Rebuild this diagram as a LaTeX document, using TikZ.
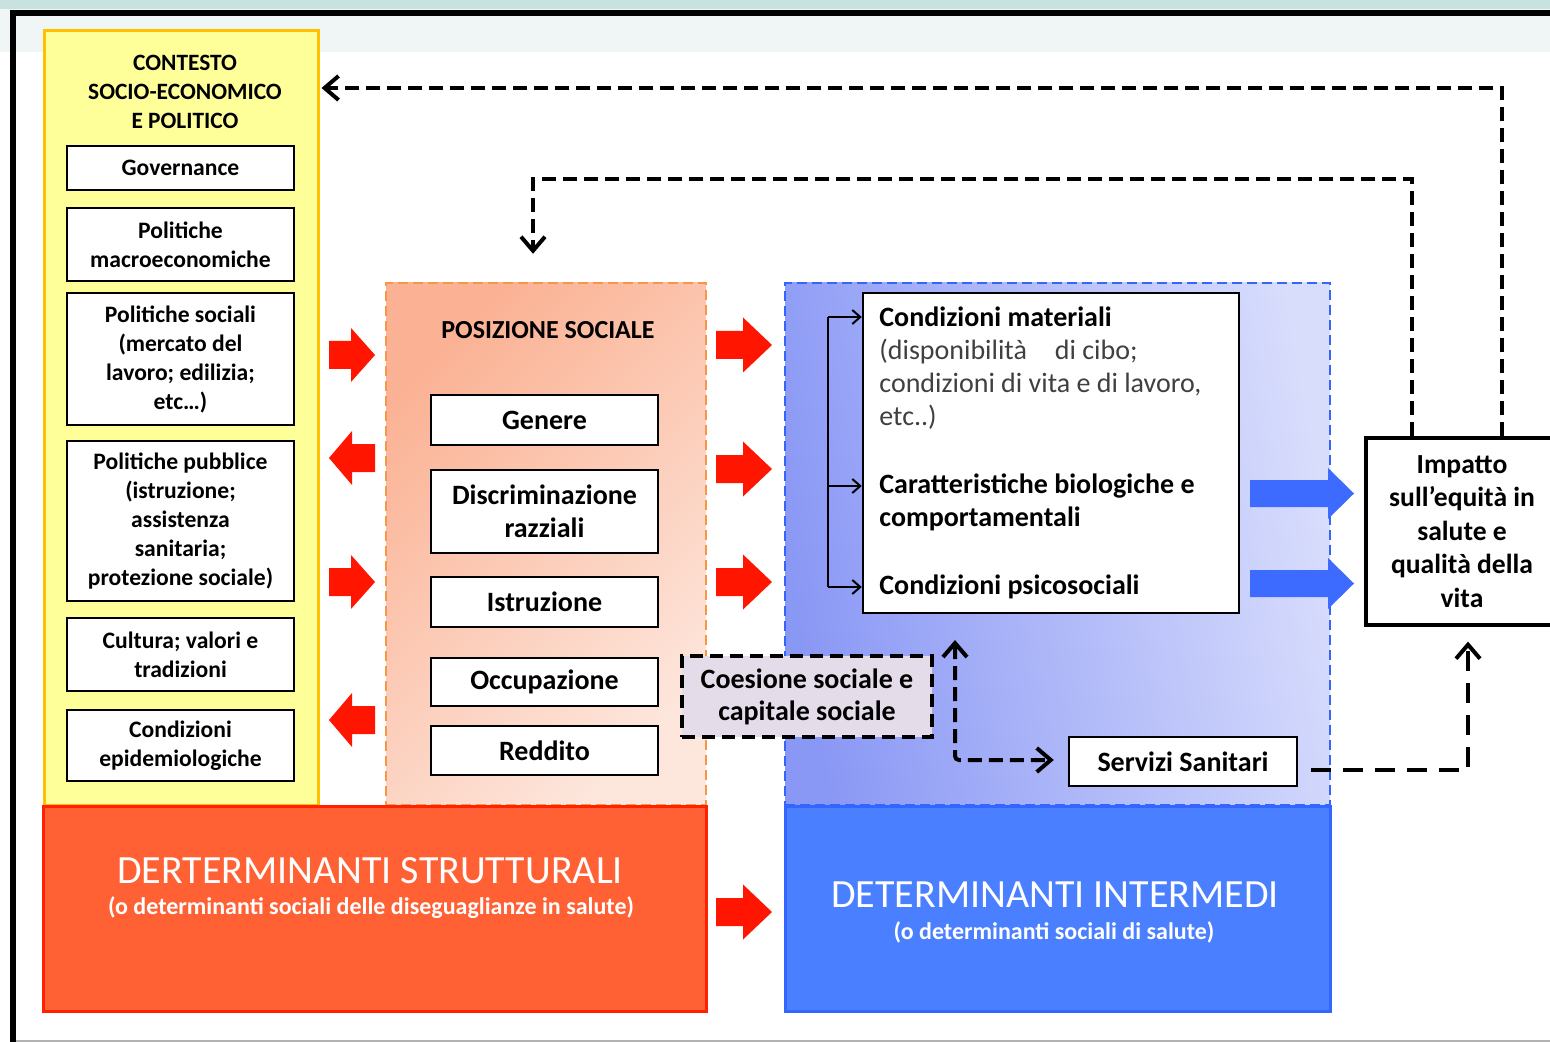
\documentclass[tikz,border=0pt]{standalone}
\usepackage{fontspec}
\setmainfont{Carlito}
\usetikzlibrary{arrows.meta,calc}
\definecolor{yelfill}{HTML}{FFFF99}
\definecolor{yelline}{HTML}{FFC000}
\definecolor{orline}{HTML}{F79646}
\definecolor{ordark}{HTML}{FBB294}
\definecolor{orlight}{HTML}{FDE6DC}
\definecolor{blline}{HTML}{3366FF}
\definecolor{bldark}{HTML}{8A98F5}
\definecolor{bllight}{HTML}{D8DDFC}
\definecolor{redfill}{HTML}{FF6134}
\definecolor{redline}{HTML}{FF2200}
\definecolor{bluefill}{HTML}{4A80FF}
\definecolor{arrred}{HTML}{FF1500}
\definecolor{arrblue}{HTML}{3D6BFF}
\definecolor{coesfill}{HTML}{E5DCEA}
\definecolor{grtext}{HTML}{404040}
\definecolor{bandtop}{HTML}{C8E3DF}
\definecolor{bandlight}{HTML}{F0F5F6}
% block arrow: x-start, x-headbase, x-tip, y, shaft half height, head half height, colour
\newcommand\blockarr[7]{\fill[#7] (#1,#4-#5) -- (#2,#4-#5) -- (#2,#4-#6) -- (#3,#4) -- (#2,#4+#6) -- (#2,#4+#5) -- (#1,#4+#5) -- cycle;}
\begin{document}
\begin{tikzpicture}[x=0.5pt,y=-0.5pt,
  wbox/.style={draw=black,line width=1.2pt,fill=white,align=center,inner sep=0pt},
  lfont/.style={font=\bfseries\fontsize{11.8}{14.5}\selectfont},
  pfont/.style={font=\bfseries\fontsize{14}{16.5}\selectfont},
  lbox/.style={wbox,lfont,minimum width=113.5pt},
  pbox/.style={wbox,pfont,minimum width=113.5pt},
  fb/.style={draw=black,line width=2pt,dash pattern=on 7pt off 3.5pt},
  fbb/.style={draw=black,line width=2pt,dash pattern=on 10pt off 6pt},
  barbend/.style={-{Straight Barb[length=7pt,width=12pt]}},
  barbboth/.style={{Straight Barb[length=7pt,width=12pt]}-{Straight Barb[length=7pt,width=12pt]}},
  smallbarb/.style={-{Straight Barb[length=4pt,width=7pt]}},
  ctext/.style={anchor=west,align=left,inner sep=0pt,font=\fontsize{14}{16.5}\selectfont}
]
\useasboundingbox (0,0) rectangle (1550,1042);
% frame
\fill[white] (0,0) rectangle (1550,1042);
\fill[bandlight] (0,0) rectangle (1550,52);
\fill[bandtop] (0,0) rectangle (1550,9);
\fill[black] (10,10) rectangle (1550,16);
\fill[black] (10,10) rectangle (16,1042);
\draw[black!30,line width=1pt] (16,1040.5) -- (1550,1040.5);

% containers
\node[draw=yelline,line width=1.5pt,fill=yelfill,minimum width=137pt,minimum height=387pt,inner sep=0pt] (yel) at (181,418) {};
\node[draw=orline,line width=1.2pt,dash pattern=on 5pt off 2.5pt,top color=ordark,bottom color=orlight,shading angle=45,minimum width=160pt,minimum height=261pt,inner sep=0pt] (orng) at (546,544) {};
\node[draw=blline,line width=1.2pt,dash pattern=on 5pt off 2.5pt,top color=bllight,bottom color=bldark,shading angle=-80,minimum width=272.5pt,minimum height=261pt,inner sep=0pt] (blu) at (1057.5,544) {};

% bottom boxes
\node[draw=redline,line width=1.5pt,fill=redfill,minimum width=331.5pt,minimum height=102.5pt,inner sep=0pt] (rbox) at (374.5,908.5) {};
\node[text=white,font=\fontsize{20}{24}\selectfont] (rtitle) at (370,871) {DERTERMINANTI STRUTTURALI};
\node[text=white,font=\bfseries\fontsize{12}{14}\selectfont] (rsub) at (371,908) {(o determinanti sociali delle diseguaglianze in salute)};
\node[draw=blline,line width=1.5pt,fill=bluefill,minimum width=272.5pt,minimum height=102.5pt,inner sep=0pt] (bbox) at (1057.5,908.5) {};
\node[text=white,font=\fontsize{20}{24}\selectfont] (btitle) at (1055,895) {DETERMINANTI INTERMEDI};
\node[text=white,font=\bfseries\fontsize{12}{14}\selectfont] (bsub) at (1054,932) {(o determinanti sociali di salute)};

% left column
\node[font=\bfseries\fontsize{11.7}{14.5}\selectfont,align=center] (ctitle) at (185,92) {CONTESTO\\SOCIO-ECONOMICO\\E POLITICO};
\node[lbox,minimum height=22pt] (gov) at (180.5,168) {Governance};
\node[lbox,minimum height=36.5pt] (macro) at (180.5,244.5) {Politiche\\macroeconomiche};
\node[lbox,minimum height=66pt] (soc) at (180.5,359) {Politiche sociali\\(mercato del\\lavoro; edilizia;\\etc…)};
\node[lbox,minimum height=80pt] (pub) at (180.5,521) {Politiche pubblice\\(istruzione;\\assistenza\\sanitaria;\\protezione sociale)};
\node[lbox,minimum height=36.5pt] (cult) at (180.5,654.5) {Cultura; valori e\\tradizioni};
\node[lbox,minimum height=35.5pt] (epi) at (180.5,745.5) {Condizioni\\epidemiologiche};

% posizione sociale
\node[font=\bfseries\fontsize{13}{15}\selectfont] (pstitle) at (548,330) {POSIZIONE SOCIALE};
\node[pbox,minimum height=25pt] (gen) at (544.5,420) {Genere};
\node[pbox,minimum height=41.5pt] (disc) at (544.5,511.5) {Discriminazione\\razziali};
\node[pbox,minimum height=25pt] (istr) at (544.5,602) {Istruzione};
\node[pbox,minimum height=24pt] (occ) at (544.5,682) {Occupazione};
\node[pbox,minimum height=24.5pt] (redd) at (544.5,750.5) {Reddito};

% condizioni
\node[wbox,minimum width=188pt,minimum height=160pt] (cbox) at (1051,453) {};
\node[ctext] (cmat) at (879,368) {\textbf{Condizioni materiali}\\\textcolor{grtext}{(disponibilità\quad di cibo;}\\\textcolor{grtext}{condizioni di vita e di lavoro,}\\\textcolor{grtext}{etc..)}};
\node[ctext,font=\bfseries\fontsize{14}{16.5}\selectfont] (cbio) at (879,502.5) {Caratteristiche biologiche e\\comportamentali};
\node[ctext,font=\bfseries\fontsize{14}{16.5}\selectfont] (cpsi) at (879,587) {Condizioni psicosociali};
\coordinate (b1) at (828,317);
\coordinate (b2) at (828,486);
\coordinate (b3) at (828,587);
\draw[line width=1pt] (b1) -- (b3);
\draw[line width=1pt,smallbarb] (b1) -- (b1 -| cbox.west);
\draw[line width=1pt,smallbarb] (b2) -- (b2 -| cbox.west);
\draw[line width=1pt,smallbarb] (b3) -- (b3 -| cbox.west);

% impatto, coesione, servizi
\node[wbox,line width=1.6pt,minimum width=96pt,minimum height=93.5pt,font=\bfseries\fontsize{13.8}{16.8}\selectfont] (imp) at (1462,531.5) {Impatto\\sull’equità in\\salute e\\qualità della\\vita};
\node[draw=black,line width=1.6pt,dash pattern=on 6.5pt off 3.5pt,fill=coesfill,minimum width=125pt,minimum height=40.5pt,inner sep=0pt,align=center,font=\bfseries\fontsize{14}{16}\selectfont] (coes) at (807,696.5) {Coesione sociale e\\capitale sociale};
\node[wbox,minimum width=114pt,minimum height=24.5pt,font=\bfseries\fontsize{14}{16}\selectfont] (serv) at (1183,761.5) {Servizi Sanitari};

% red block arrows
\blockarr{329}{351}{375}{355}{14}{27}{arrred}
\blockarr{375}{352}{329}{458}{14}{27}{arrred}
\blockarr{329}{351}{375}{582}{14}{27}{arrred}
\blockarr{375}{352}{329}{720}{14}{27}{arrred}
\blockarr{716}{743}{772}{345}{14}{27.5}{arrred}
\blockarr{716}{743}{772}{469}{14}{27.5}{arrred}
\blockarr{716}{743}{772}{582}{14}{27.5}{arrred}
\blockarr{716}{743}{772}{912}{14}{27.5}{arrred}
% blue block arrows
\blockarr{1250}{1328}{1354}{493.5}{13.5}{25.5}{arrblue}
\blockarr{1250}{1328}{1354}{583.5}{13.5}{25.5}{arrblue}

% dashed feedback connectors
\coordinate (topA) at (1502,88);
\coordinate (topB) at (1412,179);
\coordinate (topC) at (533,179);
\coordinate (cx) at (955,640);
\coordinate (sv) at (1468,770);
\draw[fb,barbend] (imp.north -| topA) -- (topA) -- ([xshift=1pt]yel.east |- topA);
\draw[fb,barbend] (imp.north -| topB) -- (topB) -- (topC) -- ($(orng.north -| topC)+(0,-28)$);
\draw[fb,barbboth,rounded corners=2pt] (cx) |- ($(serv.west)+(-14,-1.5)$);
\draw[fbb,barbend] ($(serv.east)+(13,8.5)$) -- (sv) -- ($(imp.south -| sv)+(0,15)$);
\end{tikzpicture}
\end{document}
